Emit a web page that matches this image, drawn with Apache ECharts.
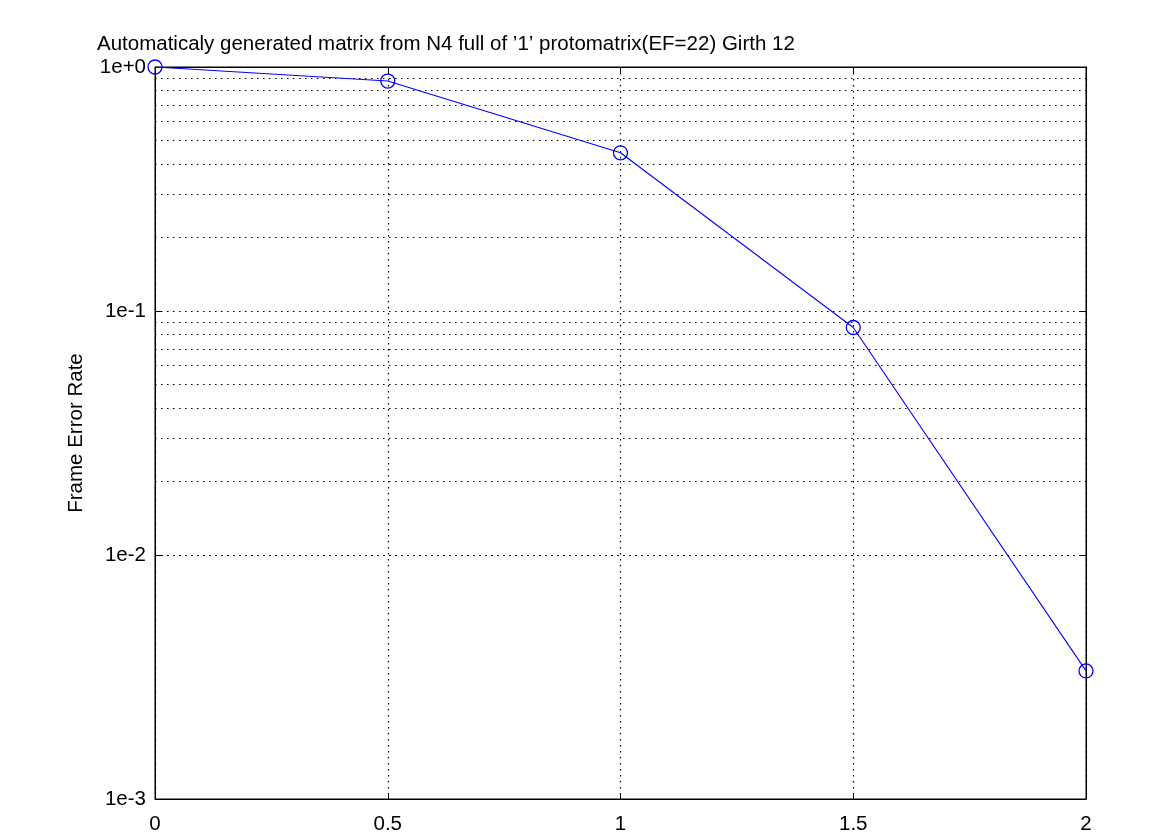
<!DOCTYPE html>
<html>
<head>
<meta charset="utf-8">
<script src="https://cdn.jsdelivr.net/npm/echarts@6/dist/echarts.min.js"></script>
<style>html,body{margin:0;padding:0;background:#fff}#c{width:1175px;height:835px}</style>
</head>
<body>
<div id="c"></div>
<script>
const titleText = "Automaticaly generated matrix from N4 full of \u20191\u2019 protomatrix(EF=22) Girth 12";
const yName = "Frame Error Rate";
const xValues = [0, 0.5, 1, 1.5, 2];
const ferValues = [1.0, 0.876, 0.445, 0.0856, 0.00335];
const minorGrid = [2e-3,3e-3,4e-3,5e-3,6e-3,7e-3,8e-3,9e-3,
                   2e-2,3e-2,4e-2,5e-2,6e-2,7e-2,8e-2,9e-2,
                   2e-1,3e-1,4e-1,5e-1,6e-1,7e-1,8e-1,9e-1];

const font = 'Liberation Sans, Arial, sans-serif';
const fs = 20.5;
const fmtY = v => { const e = Math.round(Math.log10(v)); return '1e' + (e >= 0 ? '+' : '') + e; };
const chart = echarts.init(document.getElementById('c'));
const dotted = {color:'#000', type:[1.5,4.5], width:1.2};
chart.setOption({
  animation:false,
  backgroundColor:'#fff',
  title:{text:titleText, left:92, top:29, textStyle:{fontFamily:font, fontSize:fs, fontWeight:'normal', color:'#000'}},
  grid:{left:155, right:89, top:67, bottom:35, show:true, borderColor:'#000', borderWidth:1, backgroundColor:'transparent'},
  xAxis:[{
    type:'value', min:0, max:2, interval:0.5,
    axisLine:{show:true, onZero:false, lineStyle:{color:'#000'}},
    axisTick:{inside:true, length:6, lineStyle:{color:'#000'}},
    axisLabel:{fontFamily:font, fontSize:fs, color:'#000', margin:15, formatter:v=>String(v)},
    splitLine:{show:true, lineStyle:dotted}
  },{
    type:'value', min:0, max:2, interval:0.5, position:'top',
    axisLine:{show:true, onZero:false, lineStyle:{color:'#000'}},
    axisTick:{inside:true, length:6, lineStyle:{color:'#000'}},
    axisLabel:{show:false}, splitLine:{show:false}
  }],
  yAxis:[{
    type:'log', min:1e-3, max:1, logBase:10,
    name:yName, nameLocation:'middle', nameGap:68, nameRotate:90,
    nameTextStyle:{fontFamily:font, fontSize:fs, color:'#000'},
    axisLine:{show:true, onZero:false, lineStyle:{color:'#000'}},
    axisTick:{inside:true, length:6, lineStyle:{color:'#000'}},
    axisLabel:{fontFamily:font, fontSize:fs, color:'#000', margin:9, formatter:fmtY},
    splitLine:{show:true, lineStyle:dotted}
  },{
    type:'log', min:1e-3, max:1, logBase:10, position:'right',
    axisLine:{show:true, onZero:false, lineStyle:{color:'#000'}},
    axisTick:{inside:true, length:6, lineStyle:{color:'#000'}},
    axisLabel:{show:false}, splitLine:{show:false}
  }],
  series:[{
    type:'line',
    data:xValues.map((x,i)=>[x, ferValues[i]]),
    symbol:'circle', symbolSize:14,
    lineStyle:{color:'#0000ff', width:1.1},
    itemStyle:{color:'rgba(0,0,0,0)', borderColor:'#0000ff', borderWidth:1.3},
    z:5,
    markLine:{
      silent:true, symbol:['none','none'], label:{show:false},
      lineStyle:dotted, animation:false,
      data:minorGrid.map(v=>({yAxis:v}))
    }
  }]
});
</script>
</body>
</html>
